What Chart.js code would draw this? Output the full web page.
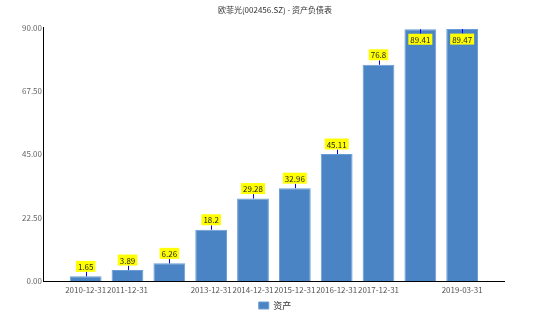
<!DOCTYPE html>
<html>
<head>
<meta charset="utf-8">
<script src="https://cdn.jsdelivr.net/npm/chart.js@4.4.1/dist/chart.umd.min.js"></script>
<style>
  html, body { margin: 0; padding: 0; background: #fff; }
  #chart { display: block; }
</style>
</head>
<body>
<canvas id="chart" width="550" height="327"></canvas>
<script>
const categories = ["2010-12-31", "2011-12-31", "2012-12-31", "2013-12-31", "2014-12-31",
  "2015-12-31", "2016-12-31", "2017-12-31", "2018-12-31", "2019-03-31"];
const values = [1.65, 3.89, 6.26, 18.2, 29.28, 32.96, 45.11, 76.8, 89.41, 89.47];
// labels that are actually printed under the axis (others skipped)
const tickLabels = ["2010-12-31", "2011-12-31", "", "2013-12-31", "2014-12-31",
  "2015-12-31", "2016-12-31", "2017-12-31", "", "2019-03-31"];
const yTicks = [0, 22.5, 45, 67.5, 90];
const seriesName = "资产";
const title = "欧菲光(002456.SZ) - 资产负债表";

const FONT = "'Noto Sans CJK SC', 'DejaVu Sans', sans-serif";

// yellow value boxes with a blue pointer line
const valueLabels = {
  id: "valueLabels",
  afterDatasetsDraw(chart) {
    const ctx = chart.ctx;
    const meta = chart.getDatasetMeta(0);
    ctx.save();
    ctx.font = "8px " + FONT;
    ctx.textAlign = "center";
    ctx.textBaseline = "middle";
    meta.data.forEach((bar, i) => {
      const txt = String(values[i]);
      const w = ctx.measureText(txt).width + 4;
      const h = 11;
      let cy, y1, y2;
      if (bar.y - 20 < chart.chartArea.top) {
        cy = bar.y + 10;
        y1 = bar.y; y2 = cy - h / 2;
      } else {
        cy = bar.y - 10;
        y1 = cy + h / 2; y2 = bar.y;
      }
      ctx.strokeStyle = "#0000ff";
      ctx.lineWidth = 1;
      ctx.beginPath();
      ctx.moveTo(Math.round(bar.x) + 0.5, y1);
      ctx.lineTo(Math.round(bar.x) + 0.5, y2);
      ctx.stroke();
      ctx.fillStyle = "#ffff00";
      ctx.fillRect(bar.x - w / 2, cy - h / 2, w, h);
      ctx.fillStyle = "#222";
      ctx.fillText(txt, bar.x, cy + 0.5);
    });
    ctx.restore();
  }
};

const ctx = document.getElementById("chart").getContext("2d");
new Chart(ctx, {
  type: "bar",
  data: {
    datasets: [{
      label: seriesName,
      data: values.map((v, i) => ({ x: i, y: v })),
      backgroundColor: "#4a84c4",
      borderColor: "#6a9dd4",
      borderWidth: 1,
      barPercentage: 0.76,
      categoryPercentage: 1
    }]
  },
  options: {
    responsive: false,
    animation: false,
    layout: { padding: { left: 0, right: 0, top: 0, bottom: 7 } },
    plugins: {
      title: {
        display: true,
        text: title,
        color: "#333",
        font: { family: FONT, size: 8, weight: "normal" },
        padding: { top: 5, bottom: 13 }
      },
      legend: {
        position: "bottom",
        labels: {
          color: "#333",
          font: { family: FONT, size: 9 },
          boxWidth: 10,
          boxHeight: 7,
          padding: 4
        }
      },
      tooltip: { enabled: false }
    },
    scales: {
      x: {
        type: "linear",
        offset: false,
        min: -1.02,
        max: 10,
        grid: { display: false, drawTicks: false },
        border: { display: true, color: "#000", width: 1 },
        afterBuildTicks: (scale) => {
          scale.ticks = categories.map((c, i) => ({ value: i }));
        },
        ticks: {
          autoSkip: false,
          maxRotation: 0,
          padding: 4,
          color: "#555",
          font: { family: FONT, size: 8 },
          callback: (v) => tickLabels[v] || ""
        },
        afterFit: (scale) => { scale.height = 16; }
      },
      y: {
        min: 0,
        max: 90,
        grid: { display: false, drawTicks: false },
        border: { display: true, color: "#000", width: 1 },
        afterBuildTicks: (scale) => {
          scale.ticks = yTicks.map((v) => ({ value: v }));
        },
        ticks: {
          padding: 1,
          color: "#666",
          font: { family: FONT, size: 8 },
          callback: (v) => Number(v).toFixed(2)
        },
        afterFit: (scale) => { scale.width = 43; }
      },
      // empty right-hand gutter so title and legend stay centred on the canvas
      yGutter: {
        position: "right",
        display: true,
        grid: { display: false, drawTicks: false },
        border: { display: false },
        ticks: { display: false },
        afterFit: (scale) => { scale.width = 46; }
      }
    }
  },
  plugins: [valueLabels]
});
</script>
</body>
</html>
